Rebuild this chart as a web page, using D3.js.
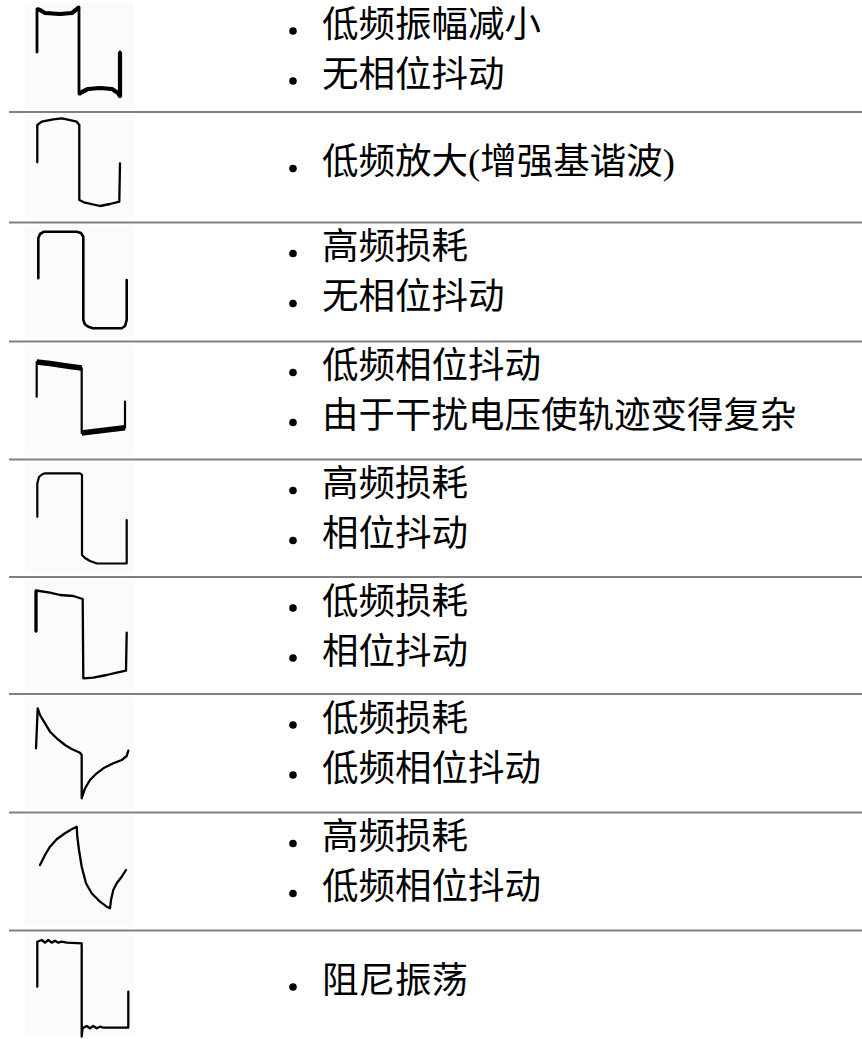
<!DOCTYPE html>
<html>
<head>
<meta charset="utf-8">
<script src="https://cdn.jsdelivr.net/npm/d3@7/dist/d3.min.js"></script>
<style>
  html, body { margin: 0; padding: 0; background: #ffffff; }
  svg { display: block; }
</style>
</head>
<body>
<svg id="chart" width="862" height="1039"></svg>
<script>
// ---- Data: description bullets for each row ----
const rowDescriptions = [
  ["低频振幅减小", "无相位抖动"],
  ["低频放大(增强基谐波)"],
  ["高频损耗", "无相位抖动"],
  ["低频相位抖动", "由于干扰电压使轨迹变得复杂"],
  ["高频损耗", "相位抖动"],
  ["低频损耗", "相位抖动"],
  ["低频损耗", "低频相位抖动"],
  ["高频损耗", "低频相位抖动"],
  ["阻尼振荡"]
];

// ---- Data: waveform traces, [time, level] ----
const waveLowAmpReduced = [[1,4],[1,47],[4,46],[9,43],[24,42],[36,43],[41,47],[43,49],[43,-38],[46,-36],[52,-33],[64,-32],[76,-33],[82,-37],[84,-40],[84,4]];
const waveLowBoost = [[1.3,5.7],[1.3,43],[5.7,46.3],[17.3,48.7],[25.7,49.7],[30.7,48.7],[40.7,46.3],[43.3,43],[43.3,-32],[49,-34.7],[64,-38],[74,-36],[83.3,-33.7],[84,4.7]];
const waveHighLossNoJitter = [[2.3,0.2],[2.3,40.2],[4,44.5],[8,46.8],[40.7,46.8],[45,45.5],[47.3,41.8],[47.3,-41.5],[49,-46],[52.3,-48.2],[57,-49.8],[85.7,-49.8],[89,-47.5],[90.7,-41.5],[90.7,-1.5]];
const waveLowJitterNoise = [[0.7,0.8],[0.7,35.5],[14,34],[24,32.5],[34,31],[45.7,29.5],[45.7,-35.5],[64,-33.2],[89,-30.2],[89,-4.2]];
const waveHighLossJitter = [[1.3,-1.2],[1.3,32.2],[3,38.5],[6,41],[9,42.2],[44,42.2],[46,40.5],[46,-39.5],[49,-42.5],[54,-45.5],[61,-48],[90.7,-47.8],[90.7,-4.5]];
const waveLowLossJitter = [[0,1.3],[0,42.5],[14,40.3],[24,38],[37.3,37],[46.7,34],[47.3,-45.3],[57.3,-44.7],[70.7,-42],[80.7,-39.7],[90,-37.7],[90.7,0.3]];
const waveLowLossLowJitter = [[0,1.7],[1.7,41.7],[4,35],[9,26.7],[14,18.3],[20.7,11.7],[29,5],[35.7,1],[44,-2.7],[45.7,-5],[45.7,-48.3],[47.3,-43.3],[49,-38.3],[54,-30],[60.7,-23.3],[67.3,-18.3],[77.3,-13.3],[85.7,-10],[90.7,-6],[92.3,-0.7]];
const waveHighLossLowJitter = [[4,3.5],[9,13.5],[14,21.8],[20.7,29.2],[29,35.2],[35.7,39.2],[40.7,41.8],[41.3,31.8],[43,18.5],[45.7,1.8],[50,-14.8],[55.7,-24.8],[64,-33.2],[70.7,-38.2],[74,-39.8],[75,-31.5],[77.3,-21.5],[80.7,-14.8],[85.7,-8.2],[90,-1.5]];
const waveDampedRinging = [[1.3,-0.2],[1.3,44.8],[5.7,46.5],[9,43.8],[12.3,46.5],[15.7,43.8],[19,45.8],[22.3,43.8],[25.7,44.8],[30.7,43.8],[45.7,43.2],[45.7,-50],[46.5,-41.8],[50.7,-39.5],[54,-41.8],[57.3,-39.5],[60.7,-41.8],[64,-40.2],[67.3,-41.2],[92.3,-41.2],[92.3,-5.2]];

const waveforms = [
  waveLowAmpReduced, waveLowBoost, waveHighLossNoJitter, waveLowJitterNoise,
  waveHighLossJitter, waveLowLossJitter, waveLowLossLowJitter, waveHighLossLowJitter,
  waveDampedRinging
];

// ---- Layout (not data) ----
const W = 862, H = 1039;
const rowHeights = [112, 110.5, 119, 118, 117.5, 117, 118.5, 118, 108.5];
const rowTops = rowHeights.reduce((acc, h, i) => { acc.push(i === 0 ? 0 : acc[i-1] + rowHeights[i-1]); return acc; }, []);
const strokeWidths = [2.8, 2.3, 2.6, 2.2, 2.2, 2.3, 2.3, 2.3, 2.3];
// heavier overlay spans (index ranges) for scanned thick plateaus
const heavySpans = {0: [[1,7],[8,15]], 3: [[1,5],[6,8]], 5: [[0,1]]};
const heavyWidths = {0: 4.2, 3: 5.5, 5: 3.2};

const svg = d3.select("#chart");
svg.append("rect").attr("width", W).attr("height", H).attr("fill", "#ffffff");

const xWave = d3.scaleLinear().domain([0, 100]).range([36, 136]);
const textX = 322, bulletX = 293;
const fontFamily = "'Liberation Serif', 'Noto Sans CJK SC', 'Noto Sans CJK TC', serif";

rowDescriptions.forEach((lines, i) => {
  const top = rowTops[i];
  const g = svg.append("g").attr("class", "row");

  // faint scan background box
  g.append("rect")
    .attr("x", 25).attr("y", top + 3)
    .attr("width", 109).attr("height", rowHeights[i] - 7)
    .attr("fill", "#fbfbfb");

  const yWave = d3.scaleLinear().domain([-60, 60]).range([top + 116, top - 4]);
  const line = d3.line().x(d => xWave(d[0])).y(d => yWave(d[1]));

  g.append("path")
    .datum(waveforms[i])
    .attr("d", line)
    .attr("fill", "none")
    .attr("stroke", "#000")
    .attr("stroke-width", strokeWidths[i])
    .attr("stroke-linejoin", "round")
    .attr("stroke-linecap", "round");

  (heavySpans[i] || []).forEach(([a, b]) => {
    g.append("path")
      .datum(waveforms[i].slice(a, b + 1))
      .attr("d", line)
      .attr("fill", "none")
      .attr("stroke", "#000")
      .attr("stroke-width", heavyWidths[i])
      .attr("stroke-linejoin", "round")
      .attr("stroke-linecap", "butt");
  });

  // bullet text lines
  const baselines = lines.length === 2 ? [top + 36.5, top + 86.5] : [top + 62];
  lines.forEach((t, j) => {
    g.append("circle")
      .attr("cx", bulletX).attr("cy", baselines[j] - 5.5)
      .attr("r", 3.8).attr("fill", "#000");
    g.append("text")
      .attr("x", textX).attr("y", baselines[j])
      .attr("font-family", fontFamily)
      .attr("font-size", 36.5)
      .attr("fill", "#000")
      .text(t);
  });

  // separator line at top of row (except first)
  if (i > 0) {
    svg.append("line")
      .attr("x1", 9).attr("x2", W)
      .attr("y1", top).attr("y2", top)
      .attr("stroke", "#808080")
      .attr("stroke-width", 2.2);
  }
});
</script>
</body>
</html>
